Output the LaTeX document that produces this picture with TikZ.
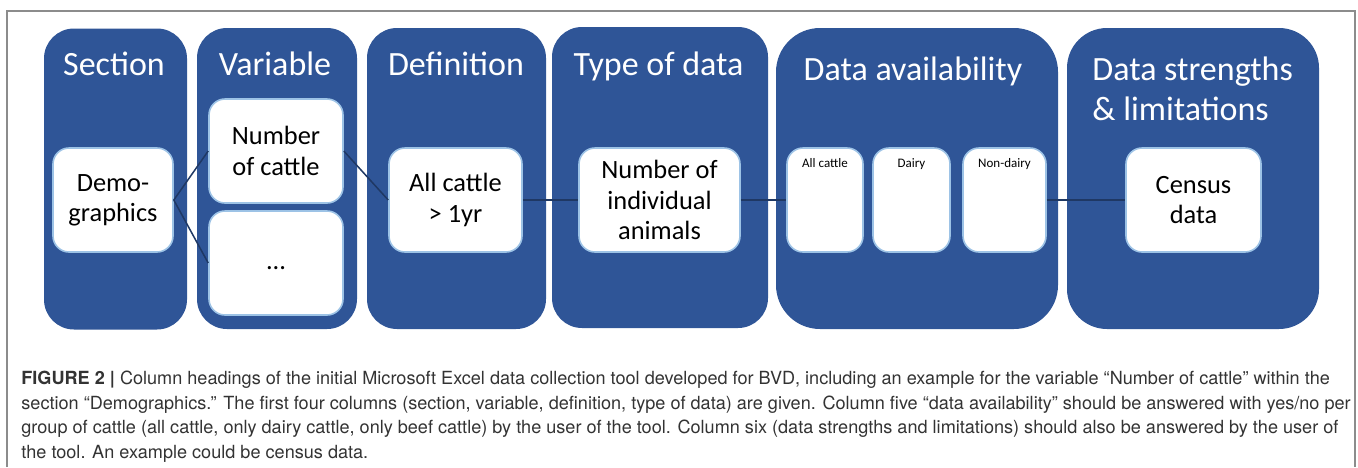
\documentclass[tikz,border=0pt]{standalone}
\usepackage{fontspec}
\newfontfamily\diafont{Carlito}
\newfontfamily\capfont{TeX Gyre Heros}
\usetikzlibrary{positioning}

\definecolor{colblue}{HTML}{2F5597}
\definecolor{celledge}{HTML}{9DC3E6}
\definecolor{linkblue}{HTML}{1F3864}
\definecolor{framegray}{HTML}{8C8C8C}
\definecolor{captext}{HTML}{333333}

\tikzset{
    colbox/.style={fill=colblue, rounded corners=15pt, minimum height=150.5pt, inner sep=0pt},
    cellbox/.style={fill=white, draw=celledge, line width=0.8pt, rounded corners=8pt, minimum height=52pt, inner sep=0pt, align=center, font=\diafont\fontsize{13.2}{15.2}\selectfont},
    headtext/.style={text=white, anchor=base, inner sep=0pt, font=\diafont\fontsize{17}{20}\selectfont},
    smalltext/.style={anchor=base, inner sep=0pt, font=\diafont\fontsize{6.5}{8}\selectfont},
    link/.style={draw=linkblue, line width=0.75pt},
}

\begin{document}
\begin{tikzpicture}[x=0.5pt, y=-0.5pt]
    \useasboundingbox (0,0) rectangle (1358,467);
    \draw [framegray, line width=1pt] (7,467) -- (7,11) -- (1355,11) -- (1355,467);

    % columns
    \node (seccol) [colbox, minimum width=71.5pt] at (115.5,179) {};
    \node (varcol) [colbox, minimum width=80pt] at (277,178.5) {};
    \node (defcol) [colbox, minimum width=89.5pt] at (456.5,178.5) {};
    \node (typcol) [colbox, minimum width=108pt] at (660,177.5) {};
    \node (avcol) [colbox, minimum width=141pt, rounded corners=22pt] at (917,178.5) {};
    \node (strcol) [colbox, minimum width=126pt, rounded corners=20pt] at (1193,178.5) {};

    % headings
    \node (sechead) [headtext] at (114,75) {Section};
    \node (varhead) [headtext] at (275,75) {Variable};
    \node (defhead) [headtext] at (456,75) {Definition};
    \node (typhead) [headtext] at (658.5,75) {Type of data};
    \node (avhead) [headtext] at (913,80) {Data availability};
    \node (strhead) [headtext, anchor=north west, align=left] at (1092,56) {Data strengths\\\& limitations};

    % cells
    \node (demo) [cellbox, minimum width=60pt] at (113,200) {Demo-\\graphics};
    \node (numcattle) [cellbox, minimum width=67pt] at (276,151) {Number\\of cattle};
    \node (dots) [cellbox, minimum width=67pt] at (276,263) {\vphantom{Ay}...};
    \node (allcat) [cellbox, minimum width=66.5pt] at (455.5,200) {All cattle\\> 1yr};
    \node (numind) [cellbox, minimum width=80.5pt] at (659.5,200) {Number of\\individual\\animals};
    \node (avall) [cellbox, minimum width=38pt] at (825,200) {};
    \node (avdairy) [cellbox, minimum width=38.5pt] at (911.5,200) {};
    \node (avnon) [cellbox, minimum width=41.5pt] at (1004.5,200) {};
    \node (census) [cellbox, minimum width=67.5pt] at (1193.5,200) {Census\\data};

    \node (avalltxt) [smalltext] at ([yshift=-10pt]avall.north) {All cattle};
    \node (avdairytxt) [smalltext] at ([yshift=-10pt]avdairy.north) {Dairy};
    \node (avnontxt) [smalltext] at ([yshift=-10pt]avnon.north) {Non-dairy};

    % links
    \draw [link] (demo.east) -- (numcattle.west);
    \draw [link] (demo.east) -- (dots.west);
    \draw [link] (numcattle.east) -- (allcat.west);
    \draw [link] (allcat.east) -- (numind.west);
    \draw [link] (numind.east) -- (avall.west);
    \draw [link] (avnon.east) -- (census.west);

    % caption
    \node (caption) [anchor=north west, inner sep=0pt, align=left, text=captext, font=\capfont\fontsize{9.05}{12.2}\selectfont] at (21,371) {\textbf{FIGURE 2 |} Column headings of the initial Microsoft Excel data collection tool developed for BVD, including an example for the variable “Number of cattle” within the\\section “Demographics.” The first four columns (section, variable, definition, type of data) are given. Column five “data availability” should be answered with yes/no per\\group of cattle (all cattle, only dairy cattle, only beef cattle) by the user of the tool. Column six (data strengths and limitations) should also be answered by the user of\\the tool. An example could be census data.};
\end{tikzpicture}
\end{document}
